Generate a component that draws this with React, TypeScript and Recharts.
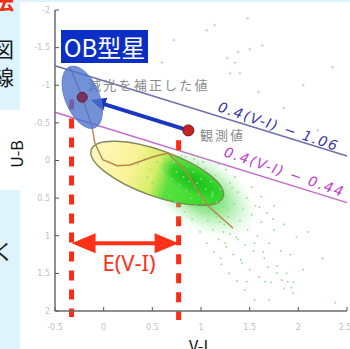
import React from 'react';
import { ScatterChart, Scatter, XAxis, YAxis, ReferenceLine } from 'recharts';

// ---- axes ----
const xTicks = [-0.5, 0, 0.5, 1, 1.5, 2, 2.5];
const yTicks = [-2, -1.5, -1, -0.5, 0, 0.5, 1, 1.5, 2];

// ---- key points (V-I, U-B) ----
const correctedV = -0.22;
const correctedU = -0.84;
const observedV = 0.87;
const observedU = -0.4;

// reddening-free lines U-B = 0.4(V-I) + c
const lineSlope = 0.4;
const blueIntercept = -1.06;
const purpleIntercept = -0.44;

// E(V-I) bracket
const excessLeftV = -0.33;
const excessRightV = 0.77;
const excessU = 1.1;

// intrinsic locus
const locusV = [-0.34, -0.22, -0.12, -0.09, -0.01, 0.14, 0.27, 0.51, 0.66, 0.85, 1.06, 1.33];
const locusU = [-1.22, -0.84, -0.45, -0.23, -0.01, 0.07, 0.06, -0.05, -0.1, 0.15, 0.59, 0.9];

// star cloud (green)
const cloudV = [0.35, 0.42, 0.48, 0.55, 0.58, 0.62, 0.66, 0.7, 0.72, 0.75, 0.78, 0.8, 0.82, 0.85, 0.86, 0.88, 0.9, 0.92, 0.94, 0.95,
  0.97, 0.98, 1.0, 1.01, 1.03, 1.04, 1.05, 1.07, 1.08, 1.1, 1.11, 1.12, 1.14, 1.15, 1.16, 1.18, 1.19, 1.2, 1.22, 1.23,
  1.25, 1.26, 1.28, 1.3, 1.31, 1.33, 1.34, 1.36, 1.38, 1.4, 1.41, 1.43, 1.45, 1.47, 1.48, 1.5, 1.52, 1.54, 1.56, 1.58,
  1.6, 1.62, 1.65, 1.68, 1.7, 1.72, 1.75, 1.78, 1.82, 1.85, 1.88, 1.92, 0.6, 0.68, 0.74, 0.83, 0.91, 0.99, 1.06, 1.13,
  1.21, 1.29, 1.37, 1.45, 0.5, 0.45, 1.55, 1.7, 1.95, 2.05, 0.84, 0.93, 1.02, 1.18, 1.26, 1.35, 1.52, 1.62, 1.75, 1.85,
  1.98, 1.2, 1.25, 1.42, 1.47, 1.66, 1.69, 1.78, 1.83, 1.89, 1.93, 1.945, 1.55, 1.64, 2.38, 1.12, 1.32, 1.6, 1.74, 2.1,
  1.08, 1.16, 1.24, 1.3, 1.38, 1.02, 0.96, 1.12, 1.2, 1.28];
const cloudU = [0.05, -0.02, 0.12, 0.02, 0.18, -0.02, 0.1, 0.25, 0.02, 0.15, 0.32, -0.06, 0.22, 0.4, 0.08, 0.28, 0.5, 0.15, 0.35, 0.6,
  0.05, 0.45, 0.25, 0.7, 0.55, 0.12, 0.38, 0.8, 0.62, 0.28, 0.48, 0.92, 0.7, 0.2, 0.55, 1.05, 0.82, 0.38, 0.62, 0.95,
  0.48, 1.15, 0.75, 0.3, 0.88, 1.25, 0.58, 1.02, 0.42, 0.8, 1.32, 0.65, 1.12, 0.5, 0.92, 1.45, 0.72, 1.2, 0.6, 1.0,
  1.55, 0.82, 1.3, 0.7, 1.1, 1.62, 0.92, 1.4, 1.2, 1.7, 1.5, 1.25, 0.35, 0.48, 0.55, 0.68, 0.78, 0.95, 1.1, 1.22,
  1.38, 1.5, 1.6, 1.72, 0.3, 0.22, 1.85, 1.85, 1.62, 1.45, -0.05, -0.02, 0.02, 0.05, 0.12, 0.22, 0.35, 0.48, 0.6, 0.85,
  1.02, 1.3, 1.1, 1.36, 1.61, 1.61, 1.415, 1.495, 1.59, 1.61, 1.69, 1.76, 1.1, 1.22, 1.89, 0.42, 0.36, 0.62, 0.78, 0.95,
  0.68, 0.75, 0.85, 0.98, 1.05, 0.52, 0.3, 0.45, 0.55, 0.65];

// field stars (grey)
const fieldV = [1.06, 1.14, 1.48, 1.38, 1.5, 1.63, 1.27, 1.35, 1.3, 1.4, 2.35, 1.59, 0.72, 2.25, 2.2, 0.6, 1.85, 2.05];
const fieldU = [-1.73, -1.8, -1.89, -1.44, -1.48, -1.53, -1.36, -1.3, -1.16, -1.16, -1.24, -0.91, -1.6, 1.3, -0.4, -1.3, -0.7, -1.0];

// texts
const blueLabel = '0.4(V-I) \u2212 1.06';
const purpleLabel = '0.4(V-I) \u2212 0.44';
const correctedLabel = '減光を補正した値';
const observedLabel = '観測値';
const obLabel = 'OB型星';
const excessLabel = 'E(V-I)';
const xName = 'V-I';
const yName = 'U-B';
const sideChars = ['法', '図', '線', 'く'];

const cloud = cloudV.map((v, i) => ({ v, u: cloudU[i] }));
const field = fieldV.map((v, i) => ({ v, u: fieldU[i] }));
const locus = locusV.map((v, i) => ({ v, u: locusU[i] }));
const blueEnds = [xTicks[0], xTicks[xTicks.length - 1]];

const JP = '"Noto Sans CJK JP", "Noto Sans", sans-serif';

const ellipseShape = (rx: number, ry: number, angle: number, extra: any) => (p: any) => (
  <ellipse cx={p.cx} cy={p.cy} rx={rx} ry={ry} transform={`rotate(${angle} ${p.cx} ${p.cy})`} {...extra} />
);

const BigEllipse = (p: any) => (
  <g>
    <defs>
      <linearGradient id="bigGrad" x1="0" y1="0" x2="1" y2="0">
        <stop offset="0%" stopColor="#fff7c0" />
        <stop offset="30%" stopColor="#fbf398" />
        <stop offset="48%" stopColor="#d8ee68" />
        <stop offset="60%" stopColor="#58e03c" />
        <stop offset="100%" stopColor="#30d828" />
      </linearGradient>
    </defs>
    <ellipse cx={p.cx} cy={p.cy} rx={70} ry={23} transform={`rotate(19.7 ${p.cx} ${p.cy})`} fill="url(#bigGrad)" />
  </g>
);

const Halo = (p: any) => (
  <g>
    <defs>
      <radialGradient id="haloGrad">
        <stop offset="0%" stopColor="#38d438" stopOpacity={0.95} />
        <stop offset="45%" stopColor="#58dc58" stopOpacity={0.6} />
        <stop offset="100%" stopColor="#a0eca0" stopOpacity={0} />
      </radialGradient>
    </defs>
    <ellipse cx={p.cx} cy={p.cy} rx={62} ry={36} transform={`rotate(32 ${p.cx} ${p.cy})`} fill="url(#haloGrad)" />
  </g>
);

const Core = (p: any) => (
  <g>
    <defs>
      <radialGradient id="coreGrad">
        <stop offset="0%" stopColor="#10bc10" stopOpacity={0.95} />
        <stop offset="65%" stopColor="#1ec81e" stopOpacity={0.6} />
        <stop offset="100%" stopColor="#30d030" stopOpacity={0} />
      </radialGradient>
    </defs>
    <ellipse cx={p.cx} cy={p.cy} rx={36} ry={14} transform={`rotate(28 ${p.cx} ${p.cy})`} fill="url(#coreGrad)" />
  </g>
);

const GreenDot = (p: any) => <rect x={p.cx - 0.8} y={p.cy - 0.8} width={1.6} height={1.6} fill="#8edc8e" />;
const GreyPlus = (p: any) => (
  <path d={`M${p.cx - 1.5},${p.cy}h3M${p.cx},${p.cy - 1.5}v3`} stroke="#c4c4c4" strokeWidth={0.8} />
);
const NoDot = () => <g />;

const rotText = (text: string, angle: number, color: string, dy: number) => (p: any) => (
  <text x={p.cx} y={p.cy} dy={dy} transform={`rotate(${angle} ${p.cx} ${p.cy})`} textAnchor="middle"
    fill={color} fontSize={14} fontStyle="italic" fontFamily="DejaVu Sans, sans-serif" letterSpacing={1.6}>
    {text}
  </text>
);

const greyText = (text: string, spacing: number) => (p: any) => (
  <text x={p.cx} y={p.cy} fill="#8a8a8a" fontSize={13} fontFamily={JP} letterSpacing={spacing}>{text}</text>
);

const BlueArrow = (p: any) => {
  const { x1, y1, x2, y2 } = p;
  const dx = x2 - x1;
  const dy = y2 - y1;
  const len = Math.hypot(dx, dy) || 1;
  const ux = dx / len;
  const uy = dy / len;
  const tx = x2 - ux * 9;
  const ty = y2 - uy * 9;
  const bx = tx - ux * 15;
  const by = ty - uy * 15;
  const nx = -uy;
  const ny = ux;
  return (
    <g>
      <line x1={x1} y1={y1} x2={bx + ux * 2} y2={by + uy * 2} stroke="#1b36c0" strokeWidth={4} />
      <polygon points={`${tx},${ty} ${bx + nx * 7},${by + ny * 7} ${bx - nx * 7},${by - ny * 7}`} fill="#1b36c0" />
    </g>
  );
};

const DoubleArrow = (p: any) => {
  const { x1, y1, x2 } = p;
  const head = 24;
  const half = 10;
  const c = '#ff3018';
  return (
    <g>
      <line x1={x1 + head - 2} y1={y1} x2={x2 - head + 2} y2={y1} stroke={c} strokeWidth={4} />
      <polygon points={`${x1},${y1} ${x1 + head},${y1 - half} ${x1 + head},${y1 + half}`} fill={c} />
      <polygon points={`${x2},${y1} ${x2 - head},${y1 - half} ${x2 - head},${y1 + half}`} fill={c} />
      <text x={(x1 + x2) / 2 + 4} y={y1 + 28} textAnchor="middle" fill={c} fontSize={22}
        fontFamily='"Noto Sans", sans-serif'>{excessLabel}</text>
    </g>
  );
};

export default function App() {
  const axisStroke = { stroke: '#6b6b6b', strokeWidth: 1.5 };
  const tickStyle = { fill: '#c2c2c2', fontSize: 8, fontFamily: 'DejaVu Sans, sans-serif' };
  return (
    <div style={{ position: 'absolute', left: 0, top: 0, width: 350, height: 349, background: '#def3fc', overflow: 'hidden' }}>
      <div style={{ position: 'absolute', left: 20, top: 2, width: 330, height: 347, background: '#ffffff' }} />
      <div style={{ position: 'absolute', left: 0, top: 110, width: 22, height: 80, background: '#ffffff' }} />
      {sideChars.map((ch, i) => (
        <div key={ch} style={{
          position: 'absolute', left: -7, top: [-10, 38, 66, 240][i], fontSize: 21, lineHeight: 1,
          fontFamily: JP, color: i === 0 ? '#f03010' : '#1a1a1a', fontWeight: i === 0 ? 700 : 400,
        }}>{ch}</div>
      ))}
      <div style={{
        position: 'absolute', left: 16, top: 154, transform: 'translate(-50%, -50%) rotate(-90deg)',
        fontSize: 16, fontFamily: JP, color: '#111', lineHeight: 1, whiteSpace: 'nowrap',
      }}>{yName}</div>
      <div style={{ position: 'absolute', left: 186, top: 328, width: 40, height: 21, background: '#fff' }} />
      <div style={{ position: 'absolute', left: 189, top: 337, fontSize: 16, fontFamily: JP, color: '#111', lineHeight: 1 }}>{xName}</div>

      <div style={{ position: 'absolute', left: 0, top: 0 }}>
        <ScatterChart width={350} height={349} margin={{ top: 10, right: 3, bottom: 8, left: 15 }}>
          <XAxis dataKey="v" type="number" domain={[-0.5, 2.5]} ticks={xTicks} allowDataOverflow height={30}
            axisLine={axisStroke} tickLine={{ stroke: '#555' }} tickSize={-4} tickMargin={17} tick={tickStyle} />
          <XAxis xAxisId="top" orientation="top" dataKey="v" type="number" domain={[-0.5, 2.5]} ticks={xTicks}
            allowDataOverflow height={0} axisLine={axisStroke} tickLine={{ stroke: '#555' }} tickSize={-4} tick={false} />
          <YAxis dataKey="u" type="number" domain={[-2, 2]} ticks={yTicks} reversed allowDataOverflow width={40}
            axisLine={axisStroke} tickLine={{ stroke: '#555' }} tickSize={-4} tickMargin={9} tick={tickStyle} />
          <YAxis yAxisId="right" orientation="right" dataKey="u" type="number" domain={[-2, 2]} ticks={yTicks} reversed
            allowDataOverflow width={0} axisLine={axisStroke} tickLine={{ stroke: '#555' }} tickSize={-4} tick={false} />

          <Scatter data={[{ v: 1.0, u: 0.43 }]} shape={Halo} isAnimationActive={false} />
          <Scatter data={[{ v: 0.55, u: 0.17 }]} shape={BigEllipse} isAnimationActive={false} />
          <Scatter data={[{ v: 0.91, u: 0.26 }]} shape={Core} isAnimationActive={false} />
          <Scatter data={[{ v: 0.55, u: 0.17 }]} isAnimationActive={false}
            shape={ellipseShape(70, 23, 19.7, { fill: 'none', stroke: '#80885a', strokeWidth: 1.4 })} />
          <Scatter data={cloud} shape={GreenDot} isAnimationActive={false} />
          <Scatter data={field} shape={GreyPlus} isAnimationActive={false} />
          <Scatter data={locus} shape={NoDot} line={{ stroke: '#b8844c', strokeWidth: 1.4 }} isAnimationActive={false} />

          <ReferenceLine segment={[{ x: blueEnds[0], y: lineSlope * blueEnds[0] + blueIntercept }, { x: blueEnds[1], y: lineSlope * blueEnds[1] + blueIntercept }]}
            stroke="#6d72aa" strokeWidth={1.5} />
          <ReferenceLine segment={[{ x: blueEnds[0], y: lineSlope * blueEnds[0] + purpleIntercept }, { x: blueEnds[1], y: lineSlope * blueEnds[1] + purpleIntercept }]}
            stroke="#c46ac8" strokeWidth={1.5} />

          <Scatter data={[{ v: 1.77, u: lineSlope * 1.77 + blueIntercept }]} shape={rotText(blueLabel, 18.5, '#3636a6', -3)} isAnimationActive={false} />
          <Scatter data={[{ v: 1.82, u: lineSlope * 1.82 + purpleIntercept }]} shape={rotText(purpleLabel, 19, '#c040c8', -6)} isAnimationActive={false} />
          <Scatter data={[{ v: -0.16, u: -0.94 }]} shape={greyText(correctedLabel, 2.2)} isAnimationActive={false} />
          <Scatter data={[{ v: 0.99, u: -0.27 }]} shape={greyText(observedLabel, 2)} isAnimationActive={false} />

          <Scatter data={[{ v: correctedV, u: correctedU }]} isAnimationActive={false}
            shape={ellipseShape(17, 33, -22.6, { fill: '#4a72cc', fillOpacity: 0.78, stroke: '#5a7ccc', strokeWidth: 0.8 })} />
          <Scatter data={[{ v: correctedV, u: correctedU }]} isAnimationActive={false}
            shape={(p: any) => <circle cx={p.cx} cy={p.cy} r={5} fill="#7c3260" stroke="#5a2040" strokeWidth={1} />} />
          <Scatter data={[{ v: observedV, u: observedU }]} isAnimationActive={false}
            shape={(p: any) => <circle cx={p.cx} cy={p.cy} r={5.5} fill="#c42222" stroke="#7a1010" strokeWidth={1} />} />

          <ReferenceLine segment={[{ x: observedV, y: observedU }, { x: correctedV, y: correctedU }]} shape={BlueArrow} ifOverflow="visible" />

          <ReferenceLine segment={[{ x: excessLeftV, y: -0.81 }, { x: excessLeftV, y: 2.08 }]} stroke="#ff2a14" strokeWidth={5}
            strokeDasharray="10 9" ifOverflow="visible" />
          <ReferenceLine segment={[{ x: excessRightV, y: -0.27 }, { x: excessRightV, y: 2.12 }]} stroke="#ff2a14" strokeWidth={5}
            strokeDasharray="10 9" ifOverflow="visible" />
          <ReferenceLine segment={[{ x: excessLeftV, y: excessU }, { x: excessRightV, y: excessU }]} shape={DoubleArrow} ifOverflow="visible" />
        </ScatterChart>
      </div>

      <div style={{
        position: 'absolute', left: 61, top: 30, width: 87, height: 33, background: '#0b2fc4', color: '#fff',
        fontFamily: JP, fontSize: 24, lineHeight: '33px', textAlign: 'center', whiteSpace: 'nowrap',
      }}>{obLabel}</div>
    </div>
  );
}
